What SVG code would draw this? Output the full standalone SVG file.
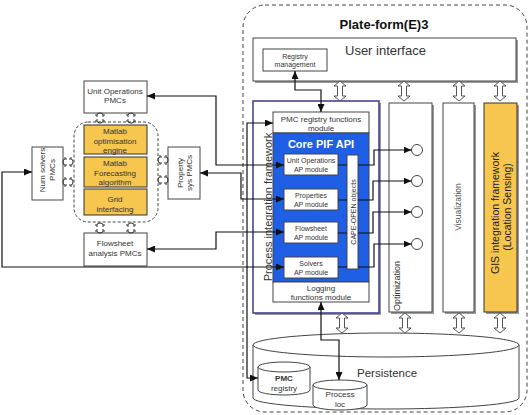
<svg xmlns="http://www.w3.org/2000/svg" xmlns:xlink="http://www.w3.org/1999/xlink" width="531" height="415" viewBox="0 0 531 415">
<style>
text{font-family:"Liberation Sans",Arial,sans-serif;fill:#333}
.box{fill:#fff;stroke:#444;stroke-width:1}
.yel{fill:#F6C64F;stroke:#333;stroke-width:1}
.sh{fill:#9a9a9a}
.s8{font-size:8px}
.s7{font-size:7px}
.c{text-anchor:middle}
.ln{fill:none;stroke:#111;stroke-width:1.2}
.ar{marker-start:url(#ah);marker-end:url(#ah)}
.ae{marker-end:url(#ah)}
.plug{fill:none;stroke:#333;stroke-width:1}
.dbl{fill:#fff;stroke:#555;stroke-width:1}
</style>
<defs>
<marker id="ah" markerUnits="userSpaceOnUse" markerWidth="8" markerHeight="7" refX="8" refY="3.5" orient="auto-start-reverse"><path d="M0,0 L8,3.5 L0,7 Z" fill="#111"/></marker>
<path id="dbl" d="M0,0 L6,5 L2.5,5 L2.5,15 L6,15 L0,20 L-6,15 L-2.5,15 L-2.5,5 L-6,5 Z"/>
<path id="plug" d="M-3,-1 V-3 Q-3,-5 0,-5 Q3,-5 3,-3 V-1 M-3,1 V3 Q-3,5 0,5 Q3,5 3,3 V1 M-5,-3 H-3 M3,-3 H5 M-5,3 H-3 M3,3 H5"/>
</defs>

<g id="platform">
<rect x="243" y="5" width="284" height="407" rx="22" fill="none" stroke="#444" stroke-dasharray="4,3"/>
<text x="384" y="29" class="c" style="font-size:13px;font-weight:bold;fill:#111">Plate-form(E)3</text>
</g>

<g id="user-interface">
<rect x="255" y="40" width="263" height="43" class="sh"/>
<rect x="253" y="38" width="263" height="43" class="box"/>
<text x="345" y="55" style="font-size:13px">User interface</text>
</g>
<g id="registry-management">
<rect x="263" y="49" width="64" height="22" class="box"/>
<text x="295" y="59" class="c s7">Registry</text>
<text x="295" y="67" class="c s7">management</text>
</g>

<g id="pif">
<rect x="255" y="103" width="126" height="212" class="sh"/>
<rect x="253" y="101" width="126" height="212" fill="#fff" stroke="#3a3a8a" stroke-width="1.5"/>
<text transform="translate(272,207) rotate(-90)" class="c" style="font-size:11px">Process integration framework</text>
</g>
<g id="pmc-registry-functions">
<rect x="273" y="112" width="96" height="21" class="box"/>
<text x="321" y="122" class="c s8">PMC registry functions</text>
<text x="321" y="131" class="c s8">module</text>
</g>
<g id="core-pif-api">
<rect x="273" y="133" width="96" height="149" fill="#1F5FE6" stroke="#444"/>
<text x="321" y="148" class="c" style="font-size:11px;font-weight:bold;fill:#fff">Core PIF API</text>
</g>
<g id="unit-operations-ap">
<rect x="284" y="154" width="54" height="21" class="box"/>
<text x="311" y="163" class="c s7">Unit Operations</text>
<text x="311" y="172" class="c s7">AP module</text>
</g>
<g id="properties-ap">
<rect x="284" y="189" width="54" height="21" class="box"/>
<text x="311" y="198" class="c s7">Properties</text>
<text x="311" y="207" class="c s7">AP module</text>
</g>
<g id="flowsheet-ap">
<rect x="284" y="222" width="54" height="21" class="box"/>
<text x="311" y="231" class="c s7">Flowsheet</text>
<text x="311" y="240" class="c s7">AP module</text>
</g>
<g id="solvers-ap">
<rect x="284" y="257" width="54" height="21" class="box"/>
<text x="311" y="266" class="c s7">Solvers</text>
<text x="311" y="275" class="c s7">AP module</text>
</g>
<g id="cape-open">
<rect x="347" y="155" width="11" height="114" class="box"/>
<text transform="translate(355.5,212) rotate(-90)" class="c s7">CAPE-OPEN objects</text>
</g>
<g id="logging">
<rect x="273" y="282" width="96" height="20" class="box"/>
<text x="321" y="291" class="c s8">Logging</text>
<text x="321" y="300" class="c s8">functions module</text>
</g>

<g id="optimization">
<rect x="391" y="105" width="43" height="209" class="sh"/>
<rect x="389" y="103" width="43" height="209" class="box"/>
<text transform="translate(400,311) rotate(-90)" style="font-size:9px">Optimization</text>
<circle cx="417" cy="150" r="5.5" class="box"/>
<circle cx="417" cy="181" r="5.5" class="box"/>
<circle cx="417" cy="212" r="5.5" class="box"/>
<circle cx="417" cy="244" r="5.5" class="box"/>
</g>
<g id="visualization">
<rect x="445" y="105" width="31" height="209" class="sh"/>
<rect x="443" y="103" width="31" height="209" class="box"/>
<text transform="translate(461,207) rotate(-90)" class="c" style="font-size:8.5px;fill:#555">Visualization</text>
</g>
<g id="gis">
<rect x="486" y="105" width="33" height="209" class="sh"/>
<rect x="484" y="103" width="33" height="209" class="yel"/>
<text transform="translate(499,213) rotate(-90)" class="c" style="font-size:10.5px;fill:#222">GIS integration framework</text>
<text transform="translate(511,207) rotate(-90)" class="c" style="font-size:10.5px;fill:#222">(Location Sensing)</text>
</g>

<g id="persistence">
<path d="M253,345 L253,398 A133,11 0 0 0 519,398 L519,345" fill="#fff" stroke="#444"/>
<ellipse cx="386" cy="345" rx="133" ry="12" fill="#fff" stroke="#444"/>
<text x="357" y="377" style="font-size:11.5px">Persistence</text>
</g>
<g id="pmc-registry">
<path d="M258,367 V390 A26,5 0 0 0 310,390 V367" fill="#fff" stroke="#444"/>
<ellipse cx="284" cy="367" rx="26" ry="5" fill="#fff" stroke="#444"/>
<text x="284" y="381" class="c s8" style="font-weight:bold">PMC</text>
<text x="284" y="391" class="c s8">registry</text>
</g>
<g id="process-loc">
<path d="M313,385 V405 A27,5 0 0 0 367,405 V385" fill="#fff" stroke="#444"/>
<ellipse cx="340" cy="385" rx="27" ry="5" fill="#fff" stroke="#444"/>
<text x="340" y="397" class="c s8">Process</text>
<text x="340" y="407" class="c s8">loc</text>
</g>

<g id="unit-operations-pmcs">
<rect x="84" y="81" width="63" height="32" class="box"/>
<text x="115" y="94" class="c s8">Unit Operations</text>
<text x="115" y="103" class="c s8">PMCs</text>
</g>
<g id="matlab-group">
<rect x="74" y="122" width="84" height="100" rx="14" fill="none" stroke="#444" stroke-dasharray="3,2"/>
</g>
<g id="matlab-optimisation">
<rect x="84" y="125" width="63" height="29" class="yel"/>
<text x="115" y="134" class="c s8">Matlab</text>
<text x="115" y="144" class="c s8">optimisation</text>
<text x="115" y="153" class="c s8">engine</text>
</g>
<g id="matlab-forecasting">
<rect x="84" y="157" width="63" height="30" class="yel"/>
<text x="115" y="166" class="c s8">Matlab</text>
<text x="115" y="176" class="c s8">Forecasting</text>
<text x="115" y="185" class="c s8">algorithm</text>
</g>
<g id="grid-interfacing">
<rect x="84" y="189" width="63" height="26" class="yel"/>
<text x="115" y="202" class="c s8">Grid</text>
<text x="115" y="212" class="c s8">interfacing</text>
</g>
<g id="flowsheet-pmcs">
<rect x="84" y="233" width="63" height="33" class="box"/>
<text x="115" y="246" class="c s8">Flowsheet</text>
<text x="115" y="256" class="c s8">analysis PMCs</text>
</g>
<g id="num-solvers-pmcs">
<rect x="32" y="147" width="31" height="53" class="box"/>
<text transform="translate(45,170) rotate(-90)" class="c s8">Num solvers</text>
<text transform="translate(55,170) rotate(-90)" class="c s8">PMCs</text>
</g>
<g id="property-pmcs">
<rect x="168" y="147" width="32" height="52" class="box"/>
<text transform="translate(183,173) rotate(-90)" class="c s8">Property</text>
<text transform="translate(192,173) rotate(-90)" class="c s8">sys PMCs</text>
</g>

<g id="plugs" class="plug">
<use xlink:href="#plug" x="100" y="118"/>
<use xlink:href="#plug" x="131" y="118"/>
<use xlink:href="#plug" x="100" y="228"/>
<use xlink:href="#plug" x="131" y="228"/>
<use xlink:href="#plug" transform="translate(68,162) rotate(90)"/>
<use xlink:href="#plug" transform="translate(68,182) rotate(90)"/>
<use xlink:href="#plug" transform="translate(163,160) rotate(90)"/>
<use xlink:href="#plug" transform="translate(163,180) rotate(90)"/>
</g>

<g id="interfaces" class="dbl">
<use xlink:href="#dbl" x="340" y="81"/>
<use xlink:href="#dbl" x="404" y="81"/>
<use xlink:href="#dbl" x="459" y="81"/>
<use xlink:href="#dbl" x="500" y="81"/>
<use xlink:href="#dbl" x="342" y="313"/>
<use xlink:href="#dbl" x="405" y="313"/>
<use xlink:href="#dbl" x="459" y="313"/>
<use xlink:href="#dbl" x="500" y="313"/>
</g>

<g id="connectors">
<path class="ln ar" d="M295,71 V90 H321 V112"/>
<path class="ln ar" d="M147,96 H216 V165 H284"/>
<path class="ln ar" d="M200,173 H241 V199 H284"/>
<path class="ln ar" d="M147,249 H216 V232 H284"/>
<path class="ln ar" d="M32,172 H2 V267 H284"/>
<path class="ln ar" d="M273,123 H247 V378 H258"/>
<path class="ln ar" d="M321,302 V340 H339 V380"/>
<path class="ln" d="M338,165 H347 M338,200 H347 M338,233 H347 M338,267 H347"/>
<path class="ln ae" d="M358,165 H374 V150 H411.5"/>
<path class="ln ae" d="M358,200 H373 V181 H411.5"/>
<path class="ln ae" d="M358,233 H373 V212 H411.5"/>
<path class="ln ae" d="M358,267 H374 V244 H411.5"/>
</g>
</svg>
